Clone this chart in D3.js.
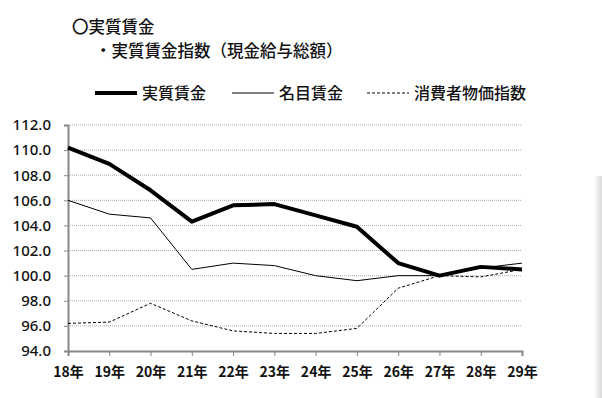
<!DOCTYPE html>
<html>
<head>
<meta charset="utf-8">
<script src="https://cdn.jsdelivr.net/npm/d3@7"></script>
<style>
  body { margin: 0; background: #fff; }
  svg { display: block; font-family: "Noto Sans CJK JP", "Noto Sans", sans-serif; }
</style>
</head>
<body>
<div id="chart"></div>
<script>
// data
const years = ["18年", "19年", "20年", "21年", "22年", "23年", "24年", "25年", "26年", "27年", "28年", "29年"]
const realWage = [110.2, 108.9, 106.8, 104.3, 105.6, 105.7, 104.8, 103.9, 101.0, 100.0, 100.7, 100.5]
const nominalWage = [106.0, 104.9, 104.6, 100.5, 101.0, 100.8, 100.0, 99.6, 100.0, 100.0, 100.6, 101.0]
const cpi = [96.2, 96.3, 97.8, 96.4, 95.6, 95.4, 95.4, 95.8, 99.0, 100.0, 99.9, 100.5]
const yTicks = [94, 96, 98, 100, 102, 104, 106, 108, 110, 112]

const dimensions = { "width": 602, "height": 398 }
const plot = { "left": 68, "right": 522, "top": 125, "bottom": 351 }

const svg = d3.select("#chart").append("svg")
    .attr("width", dimensions.width)
    .attr("height", dimensions.height)

// faint panel shadow at the right edge
const defs = svg.append("defs")
const grad = defs.append("linearGradient").attr("id", "shade")
grad.append("stop").attr("offset", "0").attr("stop-color", "#fff")
grad.append("stop").attr("offset", "1").attr("stop-color", "#d8d8d8")
svg.append("rect").attr("x", 594).attr("y", 176).attr("width", 8).attr("height", 222).attr("fill", "url(#shade)")

// titles
svg.append("text").attr("x", 72).attr("y", 33).attr("font-size", 16.5).attr("font-weight", 500).attr("fill", "#111").text("〇実質賃金")
svg.append("text").attr("x", 95).attr("y", 57).attr("font-size", 16.5).attr("font-weight", 500).attr("fill", "#111").text("・実質賃金指数（現金給与総額）")

const x = d3.scalePoint().domain(years).range([plot.left, plot.right])
const y = d3.scaleLinear().domain([94, 112]).range([plot.bottom, plot.top])

// gridlines
svg.append("g").selectAll("line")
    .data(yTicks.filter(d => d > 94))
    .join("line")
    .attr("x1", plot.left).attr("x2", plot.right)
    .attr("y1", d => y(d)).attr("y2", d => y(d))
    .attr("stroke", "#aaa").attr("stroke-width", 1).attr("stroke-dasharray", "1,1")

// y axis
const yAxis = svg.append("g")
    .attr("transform", `translate(${plot.left},0)`)
    .call(d3.axisLeft(y).tickValues(yTicks).tickFormat(d3.format(".1f")).tickSize(4))
yAxis.select(".domain").attr("stroke", "#888").attr("stroke-width", 2)
yAxis.selectAll(".tick line").attr("stroke", "#888")
yAxis.selectAll("text").attr("font-family", "Noto Sans, sans-serif").attr("font-size", 15).attr("font-weight", 500).attr("fill", "#111").attr("x", -17)

// x axis
const xAxis = svg.append("g")
    .attr("transform", `translate(0,${plot.bottom})`)
    .call(d3.axisBottom(x).tickSizeOuter(0).tickSize(5))
xAxis.select(".domain").attr("stroke", "#888").attr("stroke-width", 2)
xAxis.selectAll(".tick line").attr("stroke", "#888")
xAxis.selectAll("text").attr("font-family", "Noto Sans CJK JP, sans-serif").attr("font-size", 14).attr("font-weight", 600).attr("fill", "#111").attr("y", 16)

// series
const series = [
    { "name": "実質賃金", "values": realWage, "width": 4, "dash": null },
    { "name": "名目賃金", "values": nominalWage, "width": 1, "dash": null },
    { "name": "消費者物価指数", "values": cpi, "width": 1, "dash": "3,2" }
]
const line = d3.line().x((d, i) => x(years[i])).y(d => y(d))

svg.append("g").selectAll("path")
    .data(series.slice().reverse())
    .join("path")
    .attr("d", d => line(d.values))
    .attr("fill", "none")
    .attr("stroke", "#000")
    .attr("stroke-width", d => d.width)
    .attr("stroke-dasharray", d => d.dash)
    .attr("stroke-linejoin", "round")

// legend
const legendPos = [95, 232, 367]
const legend = svg.append("g").selectAll("g")
    .data(series)
    .join("g")
    .attr("transform", (d, i) => `translate(${legendPos[i]},93)`)
legend.append("line")
    .attr("x1", 0).attr("x2", 42)
    .attr("stroke", "#000")
    .attr("stroke-width", d => d.width)
    .attr("stroke-dasharray", d => d.dash)
legend.append("text")
    .attr("x", 47).attr("y", 6)
    .attr("font-size", 16).attr("font-weight", 500).attr("fill", "#111")
    .text(d => d.name)
</script>
</body>
</html>
